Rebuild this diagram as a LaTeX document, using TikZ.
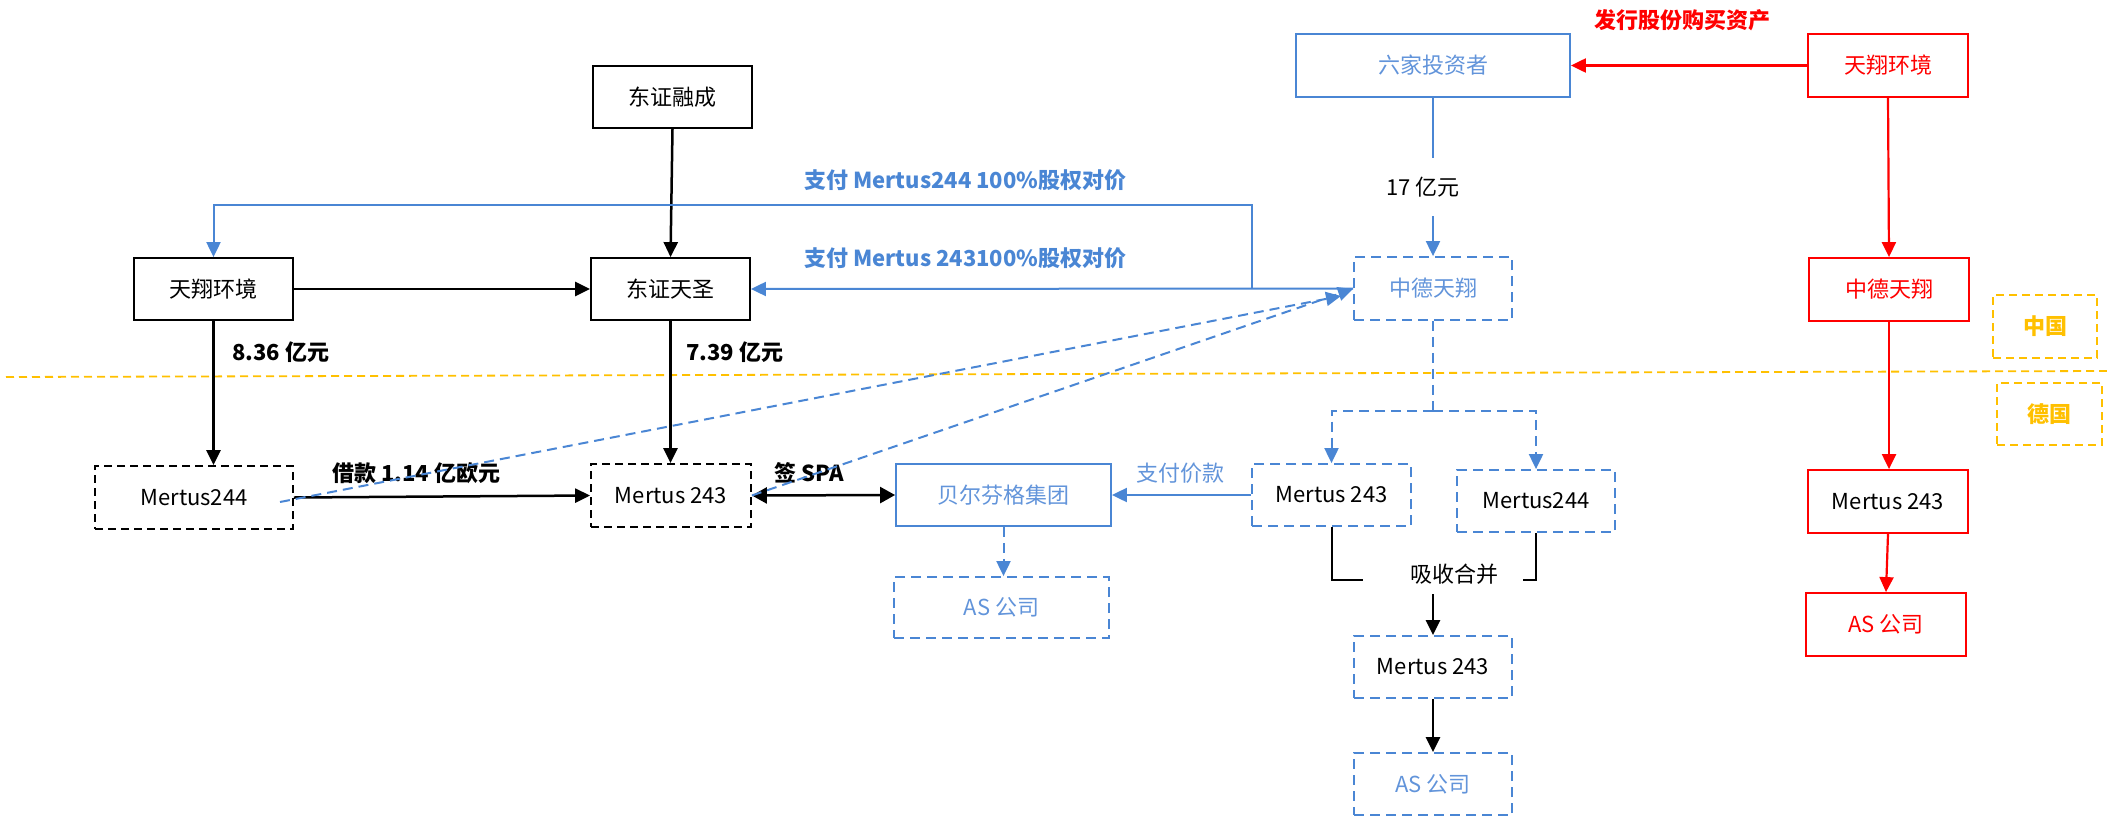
\documentclass[tikz,border=0pt]{standalone}
\usepackage{fontspec}
\setmainfont{Noto Sans CJK SC}
\usetikzlibrary{arrows.meta}
\definecolor{bl}{RGB}{74,134,212}
\definecolor{bltxt}{RGB}{98,148,218}
\definecolor{org}{RGB}{255,192,0}
\begin{document}
\begin{tikzpicture}[x=1pt,y=-1pt,
  every node/.style={font=\fontsize{22}{26}\selectfont, inner sep=0pt},
  kbox/.style={draw=black, line width=1.8pt, minimum width=159pt, minimum height=62pt},
  kdbox/.style={kbox, dash pattern=on 8pt off 5pt},
  bbox/.style={draw=bl, line width=1.8pt, text=bltxt, minimum width=158pt, minimum height=62pt},
  bdbox/.style={bbox, dash pattern=on 10pt off 6pt},
  rbox/.style={draw=red, line width=1.8pt, text=red, minimum width=160pt, minimum height=63pt},
  obox/.style={draw=org, line width=1.8pt, dash pattern=on 8pt off 5pt, text=org,
    font=\fontsize{22}{26}\selectfont\bfseries, minimum height=63pt},
  tip/.style={-{Triangle[length=15pt,width=14pt]}},
  karr/.style={draw=black, line width=2.5pt, tip},
  barr/.style={draw=bl, line width=2pt, tip},
  bdarr/.style={draw=bl, line width=2pt, dash pattern=on 10pt off 6pt, tip},
  rarr/.style={draw=red, line width=2.2pt, tip},
  lbl/.style={anchor=west, font=\fontsize{22}{26}\selectfont\bfseries},
]
\useasboundingbox (0,0) rectangle (2107,817);

% country divider
\coordinate (divL) at (6,377);
\coordinate (divR) at (2107,371);
\draw[org, line width=1.8pt, dash pattern=on 8pt off 5pt] (divL) -- (divR);

% left group (black)
\node[kbox] (dzrc) at (672.5,97) {东证融成};
\node[kbox] (txhj) at (213.5,289) {天翔环境};
\node[kbox] (dzts) at (670.5,289) {东证天圣};
\node[kdbox, minimum width=198pt, minimum height=63pt] (m244) at (194,497.5) {Mertus244};
\node[kdbox, minimum width=160pt, minimum height=63pt] (m243) at (671,495.5) {Mertus 243};

% blue group
\node[bbox, minimum width=215pt] (bef) at (1003.5,495) {贝尔芬格集团};
\node[bdbox, minimum width=215pt, minimum height=61pt] (as1) at (1001.5,607.5) {AS 公司};
\node[bbox, minimum width=274pt, minimum height=63pt] (liu) at (1433,65.5) {六家投资者};
\node[bdbox, minimum height=63pt] (zd) at (1433,288.5) {中德天翔};
\node[bdbox, minimum width=159pt, text=black] (bm243) at (1331.5,495) {Mertus 243};
\node[bdbox, text=black] (bm244) at (1536,501) {Mertus244};
\node[bdbox, text=black] (bm243b) at (1433,667) {Mertus 243};
\node[bdbox] (as2) at (1433,784) {AS 公司};

% red group
\node[rbox] (rtx) at (1888,65.5) {天翔环境};
\node[rbox] (rzd) at (1889,289.5) {中德天翔};
\node[rbox, text=black] (rm243) at (1888,501.5) {Mertus 243};
\node[rbox] (ras) at (1886,624.5) {AS 公司};

% country tags
\node[obox, minimum width=104pt] (cn) at (2045,326.5) {中国};
\node[obox, minimum width=105pt, minimum height=62pt] (de) at (2049.5,414) {德国};

% labels
\node[lbl] (l836) at (232,352) {8.36 亿元};
\node[lbl] (l739) at (686,352) {7.39 亿元};
\node[lbl] (lloan) at (332,473) {借款 1.14 亿欧元};
\node[lbl] (lspa) at (774,473) {签 SPA};
\node[anchor=west, text=bltxt] (lpay) at (1136,473) {支付价款};
\node[lbl, text=bl] (lpay244) at (804,180) {支付 Mertus244 100\%股权对价};
\node[lbl, text=bl] (lpay243) at (804,258) {支付 Mertus 243100\%股权对价};
\node[lbl, text=red] (lissue) at (1594,20) {发行股份购买资产};
\node[minimum height=58pt] (l17) at (1423,187) {17 亿元};
\node (lhb) at (1454.5,574) {吸收合并};

% black connectors
\draw[karr] (dzrc.south) -- (dzts.north);
\draw[karr] (txhj.east) -- (dzts.west);
\draw[karr] (txhj.south) -- (txhj.south |- m244.north);
\draw[karr] (dzts.south) -- (dzts.south |- m243.north);
\draw[karr] (m244.east) -- (m243.west);
\draw[draw=black, line width=2.5pt, {Triangle[length=15pt,width=16pt]}-{Triangle[length=15pt,width=16pt]}] (m243.east) -- (bef.west);

% blue connectors
\draw[barr] (bm243.west) -- (bef.east);
\draw[bdarr] (bef.south) -- (bef.south |- as1.north);
\draw[draw=bl, line width=2pt] (liu.south) -- (liu.south |- l17.north);
\draw[barr] (liu.south |- l17.south) -- (zd.north);
\draw[barr] (zd.west) -- (dzts.east);
\coordinate (j) at (1252,288.5);
\coordinate (topy) at (0,205);
\draw[barr] (j) |- (txhj.north |- topy) -- (txhj.north);
\coordinate (a1) at (280,502);
\coordinate (t1) at (1341,296);
\coordinate (t2) at (1353,289);
\draw[bdarr] (a1) -- (t1);
\draw[bdarr] (m243.east) -- (t2);
\coordinate (split) at (1433,411);
\draw[draw=bl, line width=2pt, dash pattern=on 10pt off 6pt] (zd.south) -- (split);
\draw[bdarr] (split) -| (bm243.north);
\draw[bdarr] (split) -| (bm244.north);

% merge bracket
\coordinate (brL) at (1363,580);
\coordinate (brR) at (1523,580);
\draw[line width=2pt] (bm243.south) |- (brL);
\draw[line width=2pt] (bm244.south) |- (brR);
\coordinate (mg) at (1433,594);
\draw[karr] (mg) -- (bm243b.north);
\draw[karr] (bm243b.south) -- (as2.north);

% red connectors
\draw[rarr] (rtx.west) -- (liu.east);
\draw[rarr] (rtx.south) -- (rzd.north);
\draw[rarr] (rzd.south) -- (rzd.south |- rm243.north);
\draw[rarr] (rm243.south) -- (ras.north);
\end{tikzpicture}
\end{document}
